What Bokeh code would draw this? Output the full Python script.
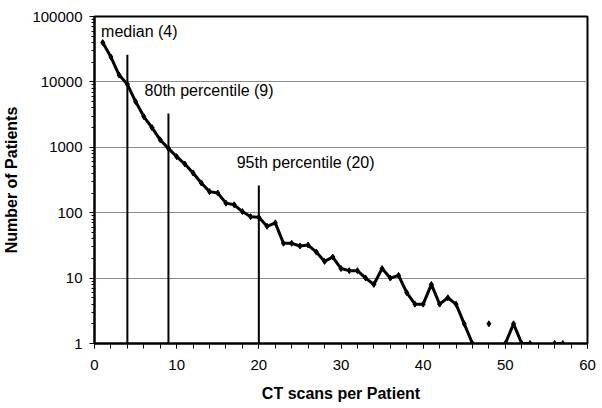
import math
from bokeh.plotting import figure
from bokeh.models import (ColumnDataSource, FixedTicker, SingleIntervalTicker,
                          NumeralTickFormatter, Label)
from bokeh.embed import file_html
from bokeh.resources import INLINE

nan = float("nan")

scans = list(range(1, 58))
patients = [40000, 24000, 12700, 9200, 5000, 2950, 2000, 1300, 960, 720,
            555, 405, 285, 210, 200, 140, 132, 104, 87, 85,
            62, 70, 34, 34, 31, 32, 25, 18, 21, 14,
            13, 13, 10, 8, 14, 10, 11, 6, 4, 4,
            8, 4, 5, 4, 2, 1, nan, 2, nan, 1,
            2, 1, 1, nan, nan, 1, 1]

pct_x = [4, 9, 20]
pct_top = [26000, 3300, 260]
pct_labels = ["median (4)", "80th percentile (9)", "95th percentile (20)"]

y_major = [1, 10, 100, 1000, 10000, 100000]
y_minor = [m * 10 ** k for k in range(5) for m in range(2, 10)]

FONT = "Liberation Sans"

p = figure(width=602, height=408, x_range=(0, 60), y_range=(1, 100000),
           y_axis_type="log", output_backend="svg", toolbar_location=None,
           min_border_left=93, min_border_right=15, min_border_top=16,
           min_border_bottom=65)

p.outline_line_color = "black"
p.outline_line_width = 2
p.background_fill_color = "white"
p.border_fill_color = "white"

p.xgrid.visible = False
p.ygrid.grid_line_color = "#8c8c8c"
p.ygrid.grid_line_width = 1

# axes
p.xaxis.ticker = SingleIntervalTicker(interval=10, num_minor_ticks=5)
p.yaxis.ticker = FixedTicker(ticks=y_major, minor_ticks=y_minor)
p.yaxis.formatter = NumeralTickFormatter(format="0")

for ax in (p.xaxis[0], p.yaxis[0]):
    ax.axis_line_color = "black"
    ax.axis_line_width = 2
    ax.major_tick_line_color = "black"
    ax.minor_tick_line_color = "black"
    ax.major_tick_line_width = 1
    ax.minor_tick_line_width = 1
    ax.major_tick_in = 0
    ax.minor_tick_in = 0
    ax.major_label_text_font = FONT
    ax.major_label_text_font_size = "15px"
    ax.major_label_text_color = "black"
    ax.axis_label_text_font = FONT
    ax.axis_label_text_font_size = "16px"
    ax.axis_label_text_font_style = "bold"
    ax.axis_label_text_color = "black"

p.xaxis.major_tick_out = 5
p.xaxis.minor_tick_out = 5
p.xaxis.major_label_standoff = 11
p.xaxis.axis_label = "CT scans per Patient"
p.xaxis.axis_label_standoff = 12

p.yaxis.major_tick_out = 5
p.yaxis.minor_tick_out = 3
p.yaxis.major_label_standoff = 7
p.yaxis.axis_label = "Number of Patients"
p.yaxis.axis_label_standoff = 9

# percentile lines
p.segment(x0=pct_x, y0=[1] * len(pct_x), x1=pct_x, y1=pct_top,
          line_color="black", line_width=2)

# data
src = ColumnDataSource(dict(x=scans, y=patients))
p.line("x", "y", source=src, line_color="black", line_width=3)
p.scatter("x", "y", source=src, marker="diamond", size=6,
          fill_color="black", line_color="black")

label_pos = [(0.8, 58000), (6.1, 7300), (17.3, 590)]
for (lx, ly), txt in zip(label_pos, pct_labels):
    p.add_layout(Label(x=lx, y=ly, text=txt, text_font=FONT,
                       text_font_size="16px", text_baseline="middle",
                       text_color="black"))

open("out.html", "w").write(file_html(p, INLINE))
